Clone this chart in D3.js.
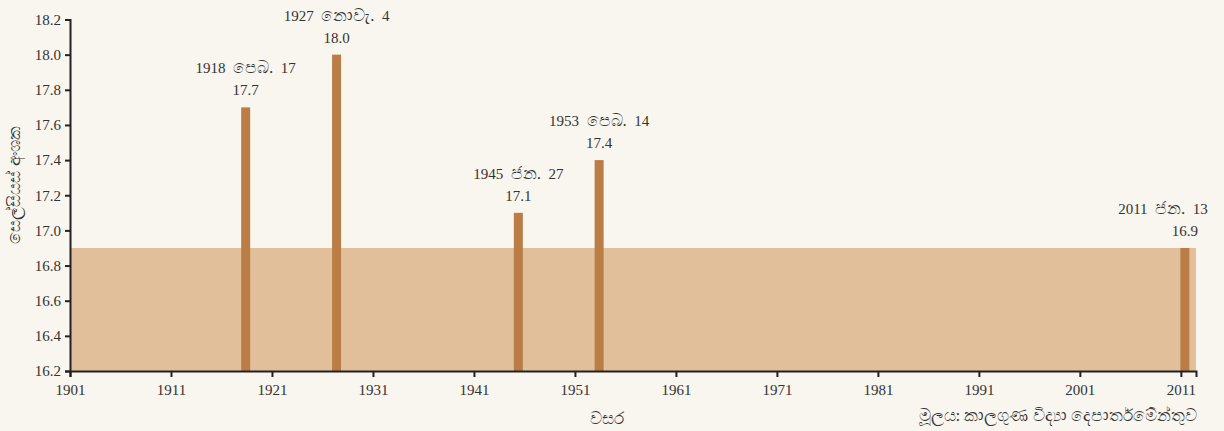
<!DOCTYPE html>
<html>
<head>
<meta charset="utf-8">
<script src="https://cdn.jsdelivr.net/npm/d3@7"></script>
<style>
body { margin: 0; background: #f9f5ef; }
svg { display: block; font-family: "Liberation Serif", "DejaVu Serif", serif; }
</style>
</head>
<body>
<div id="chart"></div>
<script>
(function () {
var years = [1918, 1927, 1945, 1953, 2011];
var dates = ["1918 පෙබ. 17", "1927 නොවැ. 4", "1945 ජන. 27", "1953 පෙබ. 14", "2011 ජන. 13"];
var temps = [17.7, 18.0, 17.1, 17.4, 16.9];
var bandTop = 16.9;
var xTicks = [1901, 1911, 1921, 1931, 1941, 1951, 1961, 1971, 1981, 1991, 2001, 2011];
var yTicks = [16.2, 16.4, 16.6, 16.8, 17.0, 17.2, 17.4, 17.6, 17.8, 18.0, 18.2];

var w = 1224, h = 431;
var svg = d3.select("#chart").append("svg").attr("width", w).attr("height", h);

var x = d3.scaleLinear().domain([1901, 2012.5]).range([70, 1196]);
var y = d3.scaleLinear().domain([16.2, 18.2]).range([371, 19.5]);

// shaded band
svg.append("rect")
  .attr("x", x(1901))
  .attr("y", y(bandTop))
  .attr("width", x(2012.5) - x(1901))
  .attr("height", y(16.2) - y(bandTop))
  .attr("fill", "#e1bf9b");

var bw = 9;
svg.selectAll("rect.bar")
  .data(years)
  .enter().append("rect")
  .attr("class", "bar")
  .attr("x", function (d) { return x(d) - 0.5; })
  .attr("y", function (d, i) { return y(temps[i]); })
  .attr("width", bw)
  .attr("height", function (d, i) { return y(16.2) - y(temps[i]); })
  .attr("fill", "#b97d45");

svg.selectAll("text.val")
  .data(years)
  .enter().append("text")
  .attr("class", "val")
  .attr("x", function (d) { return x(d) - 0.5 + bw / 2; })
  .attr("y", function (d, i) { return y(temps[i]) - 12; })
  .attr("text-anchor", "middle")
  .attr("font-size", "15px")
  .attr("fill", "#333")
  .text(function (d, i) { return temps[i].toFixed(1); });

var dl = svg.selectAll("text.date")
  .data(years)
  .enter().append("text")
  .attr("class", "date")
  .attr("x", function (d, i) { return i === 4 ? 1163 : x(d) - 0.5 + bw / 2; })
  .attr("y", function (d, i) { return y(temps[i]) - 34; })
  .attr("text-anchor", "middle")
  .attr("font-size", "15px")
  .attr("fill", "#333");
dl.each(function (d, i) {
  var parts = dates[i].split(" ");
  var t = d3.select(this);
  t.append("tspan").text(parts[0] + "\u00a0\u00a0");
  t.append("tspan").attr("font-size", "17px").text(parts[1]);
  t.append("tspan").text("\u00a0\u00a0" + parts[2]);
});

var xAxis = svg.append("g")
  .attr("transform", "translate(0," + y(16.2) + ")")
  .call(d3.axisBottom(x).tickValues(xTicks).tickFormat(d3.format("d")).tickSizeOuter(0).tickSize(6));

var yAxis = svg.append("g")
  .attr("transform", "translate(" + x(1901) + ",0)")
  .call(d3.axisLeft(y).tickValues(yTicks).tickFormat(d3.format(".1f")).tickSizeOuter(0).tickSize(5));

[xAxis, yAxis].forEach(function (g) {
  g.select(".domain").attr("stroke", "#222").attr("stroke-width", 2);
  g.selectAll(".tick line").attr("stroke", "#222").attr("stroke-width", 2);
  g.selectAll(".tick text").attr("font-family", "Liberation Serif, serif").attr("font-size", "15px").attr("fill", "#333");
});
xAxis.selectAll(".tick text").attr("dy", "1em");
yAxis.selectAll(".tick text").attr("dx", "-1px");

svg.append("text")
  .attr("transform", "translate(20,185) rotate(-90)")
  .attr("text-anchor", "middle")
  .attr("font-size", "17px")
  .attr("fill", "#333")
  .text("සෙල්සියස් අංශක");

svg.append("text")
  .attr("x", 607)
  .attr("y", 424)
  .attr("text-anchor", "middle")
  .attr("font-size", "17px")
  .attr("fill", "#333")
  .text("වසර");

svg.append("text")
  .attr("x", 1197)
  .attr("y", 421)
  .attr("text-anchor", "end")
  .attr("font-size", "17px")
  .attr("fill", "#333")
  .text("මූලය: කාලගුණ විද්‍යා දෙපාර්තමේන්තුව");
})();
</script>
</body>
</html>
